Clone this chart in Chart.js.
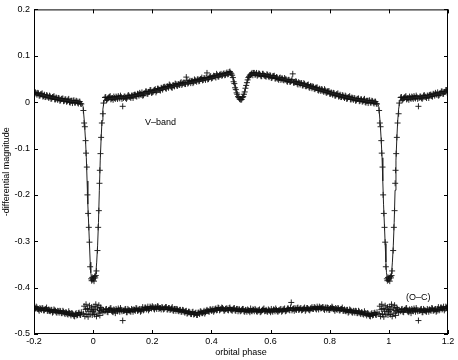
<!DOCTYPE html>
<html>
<head>
<meta charset="utf-8">
<script src="https://cdn.jsdelivr.net/npm/chart.js@4"></script>
<style>
  html, body { margin: 0; padding: 0; background: #fff; }
  #wrap { width: 458px; height: 360px; }
</style>
</head>
<body>
<div id="wrap"><canvas id="lc" width="458" height="360"></canvas></div>
<script>
// folded V-band light curve, one cycle (phase 0..1); the plot repeats it from -0.2 to 1.2
const obsPhase = [
  0.001, 0.003, 0.005, 0.007, 0.009, 0.0112, 0.0146, 0.017, 0.0193, 0.0214,
  0.0227, 0.0248, 0.027, 0.0295, 0.033, 0.035,
  0.040, 0.045, 0.050, 0.055, 0.060, 0.065, 0.070, 0.075, 0.080, 0.085,
  0.090, 0.095, 0.100, 0.105, 0.110, 0.115, 0.120, 0.125, 0.130, 0.135,
  0.140, 0.145, 0.150, 0.155, 0.160, 0.165, 0.170, 0.175, 0.180, 0.185,
  0.190, 0.195, 0.200, 0.205, 0.210, 0.215, 0.220, 0.225, 0.230, 0.235,
  0.240, 0.245, 0.250, 0.255, 0.260, 0.265, 0.270, 0.275, 0.280, 0.285,
  0.290, 0.295, 0.300, 0.305, 0.310, 0.315, 0.320, 0.325, 0.330, 0.335,
  0.340, 0.345, 0.350, 0.355, 0.360, 0.365, 0.370, 0.375, 0.380, 0.385,
  0.390, 0.395, 0.400, 0.405, 0.410, 0.415, 0.420, 0.425, 0.430, 0.435,
  0.440, 0.445, 0.450, 0.455, 0.460, 0.465, 0.470, 0.475, 0.480, 0.485,
  0.490, 0.495, 0.500, 0.505, 0.510, 0.515, 0.520, 0.525, 0.530, 0.535,
  0.540, 0.545, 0.550, 0.555, 0.560, 0.565, 0.570, 0.575, 0.580, 0.585,
  0.590, 0.595, 0.600, 0.605, 0.610, 0.615, 0.620, 0.625, 0.630, 0.635,
  0.640, 0.645, 0.650, 0.655, 0.660, 0.665, 0.670, 0.675, 0.680, 0.685,
  0.690, 0.695, 0.700, 0.705, 0.710, 0.715, 0.720, 0.725, 0.730, 0.735,
  0.740, 0.745, 0.750, 0.755, 0.760, 0.765, 0.770, 0.775, 0.780, 0.785,
  0.790, 0.795, 0.800, 0.805, 0.810, 0.815, 0.820, 0.825, 0.830, 0.835,
  0.840, 0.845, 0.850, 0.855, 0.860, 0.865, 0.870, 0.875, 0.880, 0.885,
  0.890, 0.895, 0.900, 0.905, 0.910, 0.915, 0.920, 0.925, 0.930, 0.935,
  0.940, 0.945, 0.950, 0.955, 0.960,
  0.967, 0.9695, 0.972, 0.9745, 0.976, 0.9786, 0.9807, 0.983, 0.9854, 0.9875,
  0.9898, 0.9932, 0.995, 0.997, 0.999
];

const obsMag = [
  -0.380, -0.386, -0.376, -0.379, -0.374, -0.364, -0.320, -0.270, -0.234, -0.175,
  -0.147, -0.111, -0.076, -0.045, -0.025, -0.002,
  0.010, 0.004, 0.008, 0.011, 0.006, 0.009, 0.012, 0.007, 0.010, 0.013,
  0.008, 0.011, -0.009, 0.012, 0.009, 0.010, 0.015, 0.011, 0.014, 0.009,
  0.016, 0.013, 0.018, 0.014, 0.017, 0.021, 0.015, 0.019, 0.023, 0.018,
  0.022, 0.026, 0.021, 0.025, 0.028, 0.024, 0.029, 0.026, 0.031, 0.027,
  0.033, 0.030, 0.034, 0.031, 0.036, 0.032, 0.037, 0.034, 0.039, 0.035,
  0.038, 0.041, 0.037, 0.042, 0.039, 0.054, 0.040, 0.044, 0.041, 0.046,
  0.043, 0.047, 0.044, 0.049, 0.046, 0.050, 0.047, 0.052, 0.048, 0.063,
  0.050, 0.055, 0.051, 0.054, 0.056, 0.053, 0.058, 0.055, 0.059, 0.057,
  0.061, 0.058, 0.062, 0.060, 0.065, 0.063, 0.058, 0.044, 0.031, 0.020,
  0.012, 0.007, 0.005, 0.010, 0.017, 0.030, 0.042, 0.053, 0.058, 0.061,
  0.058, 0.063, 0.060, 0.057, 0.062, 0.059, 0.056, 0.061, 0.057, 0.055,
  0.059, 0.054, 0.057, 0.053, 0.056, 0.051, 0.054, 0.050, 0.052, 0.048,
  0.051, 0.047, 0.049, 0.045, 0.048, 0.044, 0.046, 0.061, 0.042, 0.045,
  0.040, 0.043, 0.038, 0.041, 0.036, 0.039, 0.034, 0.037, 0.032, 0.035,
  0.030, 0.033, 0.028, 0.031, 0.026, 0.029, 0.024, 0.027, 0.022, 0.025,
  0.020, 0.023, 0.018, 0.021, 0.016, 0.019, 0.014, 0.017, 0.012, 0.016,
  0.011, 0.014, 0.009, 0.012, 0.008, 0.011, 0.006, 0.010, 0.005, 0.008,
  0.004, 0.007, 0.002, 0.006, 0.001, 0.005, 0.000, 0.003, -0.002, 0.004,
  -0.001, 0.002, -0.003, 0.001, -0.004,
  -0.018, -0.045, -0.053, -0.083, -0.110, -0.140, -0.200, -0.240, -0.270, -0.302,
  -0.355, -0.381, -0.385, -0.378, -0.383
];

// residuals, plotted with an offset of -0.45 as in the original figure
const ocMag = [
  -0.452, -0.441, -0.458, -0.447, -0.436, -0.462, -0.444, -0.455, -0.438, -0.449,
  -0.460, -0.443, -0.451, -0.446, -0.454, -0.448,
  -0.451, -0.446, -0.453, -0.448, -0.444, -0.452, -0.447, -0.455, -0.449, -0.445,
  -0.452, -0.448, -0.471, -0.450, -0.446, -0.453, -0.449, -0.451, -0.446, -0.452,
  -0.448, -0.444, -0.450, -0.447, -0.452, -0.446, -0.449, -0.443, -0.447, -0.441,
  -0.446, -0.443, -0.440, -0.445, -0.442, -0.446, -0.441, -0.444, -0.447, -0.443,
  -0.446, -0.442, -0.447, -0.444, -0.448, -0.445, -0.449, -0.446, -0.450, -0.447,
  -0.451, -0.448, -0.452, -0.449, -0.454, -0.450, -0.455, -0.452, -0.457, -0.453,
  -0.458, -0.455, -0.459, -0.454, -0.457, -0.452, -0.455, -0.450, -0.453, -0.448,
  -0.451, -0.447, -0.450, -0.446, -0.449, -0.445, -0.448, -0.444, -0.447, -0.443,
  -0.446, -0.449, -0.445, -0.448, -0.444, -0.447, -0.450, -0.445, -0.449, -0.446,
  -0.451, -0.447, -0.450, -0.446, -0.451, -0.448, -0.452, -0.449, -0.453, -0.450,
  -0.447, -0.451, -0.448, -0.452, -0.449, -0.453, -0.450, -0.447, -0.451, -0.448,
  -0.452, -0.449, -0.453, -0.450, -0.447, -0.451, -0.448, -0.452, -0.449, -0.446,
  -0.450, -0.447, -0.451, -0.448, -0.445, -0.449, -0.432, -0.446, -0.450, -0.447,
  -0.444, -0.448, -0.445, -0.449, -0.446, -0.443, -0.447, -0.444, -0.448, -0.445,
  -0.442, -0.446, -0.443, -0.447, -0.444, -0.441, -0.445, -0.442, -0.446, -0.443,
  -0.447, -0.444, -0.448, -0.445, -0.443, -0.447, -0.444, -0.448, -0.445, -0.449,
  -0.446, -0.450, -0.447, -0.451, -0.448, -0.452, -0.449, -0.453, -0.450, -0.454,
  -0.451, -0.455, -0.452, -0.457, -0.454, -0.458, -0.455, -0.460, -0.456, -0.461,
  -0.457, -0.460, -0.455, -0.458, -0.453,
  -0.456, -0.440, -0.462, -0.447, -0.436, -0.458, -0.445, -0.463, -0.451, -0.439,
  -0.457, -0.447, -0.442, -0.459, -0.450
];

// second night of observations, out of eclipse, falling between the first night's phases
const obs2Phase = [
  0.0425, 0.0475, 0.0525, 0.0575, 0.0625, 0.0675, 0.0725, 0.0775, 0.0825, 0.0875,
  0.0925, 0.0975, 0.1025, 0.1075, 0.1125, 0.1175, 0.1225, 0.1275, 0.1325, 0.1375,
  0.1425, 0.1475, 0.1525, 0.1575, 0.1625, 0.1675, 0.1725, 0.1775, 0.1825, 0.1875,
  0.1925, 0.1975, 0.2025, 0.2075, 0.2125, 0.2175, 0.2225, 0.2275, 0.2325, 0.2375,
  0.2425, 0.2475, 0.2525, 0.2575, 0.2625, 0.2675, 0.2725, 0.2775, 0.2825, 0.2875,
  0.2925, 0.2975, 0.3025, 0.3075, 0.3125, 0.3175, 0.3225, 0.3275, 0.3325, 0.3375,
  0.3425, 0.3475, 0.3525, 0.3575, 0.3625, 0.3675, 0.3725, 0.3775, 0.3825, 0.3875,
  0.3925, 0.3975, 0.4025, 0.4075, 0.4125, 0.4175, 0.4225, 0.4275, 0.4325, 0.4375,
  0.4425, 0.4475, 0.4525, 0.4575, 0.4625, 0.4675, 0.4725, 0.4775, 0.4825, 0.4875,
  0.4925, 0.4975, 0.5025, 0.5075, 0.5125, 0.5175, 0.5225, 0.5275, 0.5325, 0.5375,
  0.5425, 0.5475, 0.5525, 0.5575, 0.5625, 0.5675, 0.5725, 0.5775, 0.5825, 0.5875,
  0.5925, 0.5975, 0.6025, 0.6075, 0.6125, 0.6175, 0.6225, 0.6275, 0.6325, 0.6375,
  0.6425, 0.6475, 0.6525, 0.6575, 0.6625, 0.6675, 0.6725, 0.6775, 0.6825, 0.6875,
  0.6925, 0.6975, 0.7025, 0.7075, 0.7125, 0.7175, 0.7225, 0.7275, 0.7325, 0.7375,
  0.7425, 0.7475, 0.7525, 0.7575, 0.7625, 0.7675, 0.7725, 0.7775, 0.7825, 0.7875,
  0.7925, 0.7975, 0.8025, 0.8075, 0.8125, 0.8175, 0.8225, 0.8275, 0.8325, 0.8375,
  0.8425, 0.8475, 0.8525, 0.8575, 0.8625, 0.8675, 0.8725, 0.8775, 0.8825, 0.8875,
  0.8925, 0.8975, 0.9025, 0.9075, 0.9125, 0.9175, 0.9225, 0.9275, 0.9325, 0.9375,
  0.9425, 0.9475, 0.9525, 0.9575
];

const obs2Mag = [
  0.011, 0.006, 0.010, 0.013, 0.008, 0.005, 0.009, 0.012, 0.007, 0.010,
  0.014, 0.007, 0.009, 0.012, 0.007, 0.014, 0.012, 0.009, 0.014, 0.015,
  0.016, 0.012, 0.017, 0.020, 0.016, 0.014, 0.019, 0.023, 0.018, 0.022,
  0.026, 0.020, 0.022, 0.026, 0.021, 0.029, 0.027, 0.025, 0.030, 0.032,
  0.033, 0.029, 0.034, 0.038, 0.034, 0.031, 0.036, 0.040, 0.036, 0.039,
  0.037, 0.043, 0.040, 0.042, 0.039, 0.047, 0.042, 0.046, 0.045, 0.041,
  0.049, 0.046, 0.049, 0.045, 0.050, 0.053, 0.048, 0.051, 0.053, 0.049,
  0.053, 0.056, 0.052, 0.057, 0.055, 0.061, 0.055, 0.059, 0.061, 0.058,
  0.062, 0.059, 0.064, 0.061, 0.066, 0.061, 0.053, 0.040, 0.027, 0.017,
  0.010, 0.006, 0.006, 0.012, 0.022, 0.036, 0.048, 0.055, 0.059, 0.063,
  0.063, 0.059, 0.063, 0.059, 0.061, 0.056, 0.061, 0.058, 0.056, 0.060,
  0.056, 0.058, 0.052, 0.056, 0.057, 0.051, 0.053, 0.048, 0.053, 0.051,
  0.048, 0.052, 0.049, 0.044, 0.048, 0.044, 0.049, 0.042, 0.043, 0.044,
  0.038, 0.041, 0.041, 0.036, 0.041, 0.035, 0.035, 0.038, 0.031, 0.034,
  0.034, 0.029, 0.031, 0.032, 0.025, 0.027, 0.028, 0.024, 0.028, 0.021,
  0.023, 0.024, 0.018, 0.019, 0.020, 0.014, 0.017, 0.019, 0.013, 0.011,
  0.015, 0.011, 0.014, 0.007, 0.011, 0.013, 0.006, 0.008, 0.009, 0.003,
  0.007, 0.008, 0.003, 0.006, 0.002, 0.007, -0.001, 0.003, 0.003, -0.001,
  0.003, -0.001, 0.001, -0.003
];

const oc2Mag = [
  -0.447, -0.452, -0.448, -0.445, -0.450, -0.453, -0.449, -0.446, -0.451, -0.448,
  -0.444, -0.451, -0.450, -0.447, -0.453, -0.446, -0.449, -0.452, -0.448, -0.447,
  -0.450, -0.445, -0.449, -0.446, -0.450, -0.442, -0.447, -0.443, -0.445, -0.449,
  -0.441, -0.445, -0.442, -0.447, -0.443, -0.440, -0.446, -0.444, -0.442, -0.447,
  -0.444, -0.442, -0.447, -0.444, -0.447, -0.442, -0.450, -0.446, -0.446, -0.450,
  -0.448, -0.452, -0.448, -0.452, -0.451, -0.456, -0.452, -0.454, -0.457, -0.452,
  -0.457, -0.454, -0.459, -0.454, -0.451, -0.455, -0.453, -0.456, -0.450, -0.450,
  -0.452, -0.447, -0.449, -0.452, -0.446, -0.449, -0.443, -0.449, -0.446, -0.444,
  -0.450, -0.446, -0.445, -0.449, -0.443, -0.448, -0.447, -0.444, -0.450, -0.446,
  -0.447, -0.451, -0.448, -0.446, -0.452, -0.449, -0.447, -0.450, -0.445, -0.451,
  -0.448, -0.446, -0.451, -0.449, -0.447, -0.452, -0.448, -0.445, -0.450, -0.451,
  -0.447, -0.450, -0.446, -0.452, -0.448, -0.445, -0.451, -0.449, -0.447, -0.452,
  -0.447, -0.445, -0.450, -0.445, -0.448, -0.443, -0.449, -0.445, -0.444, -0.448,
  -0.443, -0.447, -0.444, -0.448, -0.445, -0.450, -0.444, -0.446, -0.449, -0.445,
  -0.446, -0.442, -0.445, -0.441, -0.447, -0.443, -0.444, -0.442, -0.448, -0.443,
  -0.443, -0.448, -0.444, -0.441, -0.446, -0.450, -0.446, -0.444, -0.449, -0.446,
  -0.443, -0.450, -0.450, -0.448, -0.454, -0.447, -0.450, -0.454, -0.451, -0.450,
  -0.455, -0.450, -0.455, -0.453, -0.457, -0.451, -0.457, -0.455, -0.458, -0.462,
  -0.455, -0.459, -0.454, -0.459
];

// model fit through the light curve
const modelPhase = [
  0.000, 0.006, 0.009, 0.012, 0.015, 0.018, 0.021, 0.024, 0.027, 0.030,
  0.033, 0.037, 0.05, 0.08, 0.11, 0.14, 0.17, 0.20, 0.24, 0.28,
  0.32, 0.36, 0.40, 0.43, 0.455, 0.465, 0.472, 0.478, 0.484, 0.490,
  0.495, 0.500, 0.505, 0.510, 0.516, 0.522, 0.528, 0.535, 0.55, 0.58,
  0.62, 0.66, 0.70, 0.74, 0.78, 0.82, 0.86, 0.90, 0.93, 0.955,
  0.962, 0.966, 0.970, 0.974, 0.977, 0.9795, 0.982, 0.985, 0.9875, 0.990,
  0.992, 0.995
];
const modelMag = [
  -0.383, -0.379, -0.370, -0.345, -0.310, -0.260, -0.190, -0.125, -0.078, -0.040,
  -0.015, 0.002, 0.007, 0.009, 0.011, 0.014, 0.018, 0.022, 0.029, 0.035,
  0.041, 0.046, 0.052, 0.057, 0.061, 0.063, 0.057, 0.044, 0.028, 0.014,
  0.008, 0.006, 0.009, 0.016, 0.032, 0.046, 0.055, 0.060, 0.061, 0.059,
  0.054, 0.047, 0.039, 0.031, 0.024, 0.017, 0.010, 0.005, 0.002, 0.000,
  -0.002, -0.010, -0.040, -0.080, -0.120, -0.170, -0.220, -0.265, -0.305, -0.345,
  -0.368, -0.380
];

const xTicks = [-0.2, 0, 0.2, 0.4, 0.6, 0.8, 1, 1.2];
const yTicks = [-0.5, -0.4, -0.3, -0.2, -0.1, 0, 0.1, 0.2];
const bandLabel = { text: 'V\u2013band', x: 0.175, y: -0.044 };
const ocLabel = { text: '(O\u2013C)', x: 1.058, y: -0.422 };

// show the folded cycle over -0.2..1.2 like the original plot
function fold(ph, mag) {
  const out = [];
  ph.forEach((p, i) => {
    if (p >= 0.8) out.push({ x: p - 1, y: mag[i] });
    out.push({ x: p, y: mag[i] });
    if (p <= 0.2) out.push({ x: p + 1, y: mag[i] });
  });
  return out.sort((a, b) => a.x - b.x);
}

const FONT = { family: '"Liberation Sans", Arial, sans-serif', size: 9 };
Chart.defaults.font.family = FONT.family;
Chart.defaults.color = '#000';

const fmt = v => String(Math.round(v * 10) / 10);

const boxPlugin = {
  id: 'box',
  afterDraw(chart) {
    const { ctx, chartArea: a, scales: { x, y } } = chart;
    ctx.save();
    ctx.strokeStyle = '#000';
    ctx.lineWidth = 1;
    ctx.strokeRect(a.left + 0.5, a.top + 0.5, a.right - a.left - 1, a.bottom - a.top - 1);
    ctx.beginPath();
    xTicks.forEach(v => {
      const px = Math.round(x.getPixelForValue(v)) + 0.5;
      ctx.moveTo(px, a.bottom); ctx.lineTo(px, a.bottom - 4);
      ctx.moveTo(px, a.top); ctx.lineTo(px, a.top + 4);
    });
    yTicks.forEach(v => {
      const py = Math.round(y.getPixelForValue(v)) + 0.5;
      ctx.moveTo(a.left, py); ctx.lineTo(a.left + 4, py);
      ctx.moveTo(a.right, py); ctx.lineTo(a.right - 4, py);
    });
    ctx.stroke();
    ctx.fillStyle = '#000';
    ctx.font = FONT.size + 'px ' + FONT.family;
    ctx.textBaseline = 'middle';
    [bandLabel, ocLabel].forEach(l => {
      ctx.fillText(l.text, x.getPixelForValue(l.x), y.getPixelForValue(l.y));
    });
    ctx.restore();
  }
};

const cross = { pointStyle: 'cross', pointRadius: 3, borderColor: '#111', borderWidth: 0.9, showLine: false };

new Chart(document.getElementById('lc'), {
  type: 'scatter',
  data: {
    datasets: [
      { data: fold(modelPhase, modelMag), showLine: true, pointRadius: 0, borderColor: '#222', borderWidth: 1, tension: 0 },
      { data: fold(obsPhase, obsMag), ...cross },
      { data: fold(obs2Phase, obs2Mag), ...cross },
      { data: fold(obsPhase, ocMag), ...cross },
      { data: fold(obs2Phase, oc2Mag), ...cross }
    ]
  },
  options: {
    responsive: false,
    animation: false,
    events: [],
    layout: { padding: { top: 9, right: 10, left: 0, bottom: 0 } },
    plugins: { legend: { display: false }, tooltip: { enabled: false } },
    scales: {
      x: {
        type: 'linear', min: -0.2, max: 1.2,
        afterBuildTicks: s => { s.ticks = xTicks.map(v => ({ value: v })); },
        afterFit: s => { s.height = 26; },
        ticks: { font: FONT, padding: 2, callback: fmt, maxRotation: 0 },
        grid: { display: false, drawTicks: false },
        border: { display: false },
        title: { display: true, text: 'orbital phase', font: FONT, padding: { top: 0, bottom: 2 } }
      },
      y: {
        type: 'linear', min: -0.5, max: 0.2,
        afterBuildTicks: s => { s.ticks = yTicks.map(v => ({ value: v })); },
        afterFit: s => { s.width = 34; },
        ticks: { font: FONT, padding: 4, callback: fmt },
        grid: { display: false, drawTicks: false },
        border: { display: false },
        title: { display: true, text: '-differential magnitude', font: FONT, padding: { top: 1, bottom: 0 } }
      }
    }
  },
  plugins: [boxPlugin]
});
</script>
</body>
</html>
